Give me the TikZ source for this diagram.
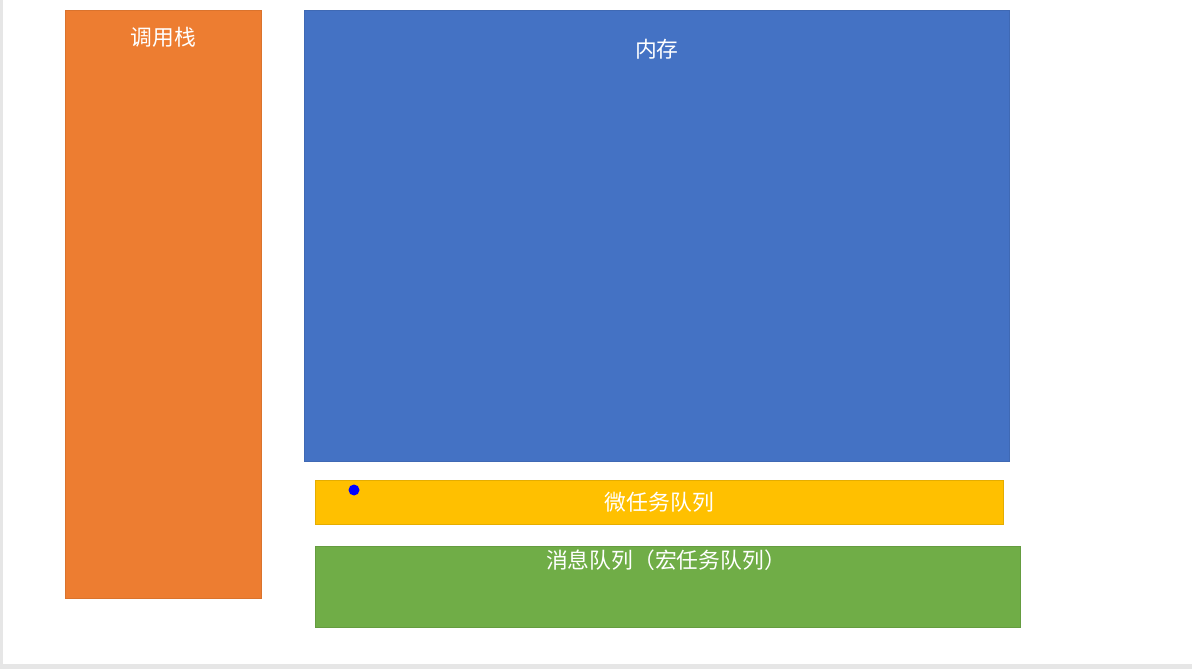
\documentclass[tikz,border=0pt]{standalone}
\usepackage{fontspec}
\newfontfamily\cjk{Noto Sans CJK SC}
\usetikzlibrary{positioning,calc}

\definecolor{stackorange}{HTML}{ED7D31}
\definecolor{heapblue}{HTML}{4472C4}
\definecolor{microyellow}{HTML}{FFC000}
\definecolor{macrogreen}{HTML}{70AD47}
\definecolor{slidegray}{HTML}{E6E6E6}

\begin{document}
\begin{tikzpicture}[x=0.025cm, y=-0.025cm]
  \tikzstyle{area}=[draw, line width=0.5pt, anchor=north west, inner sep=0pt]
  \tikzstyle{lbl}=[text=white, font=\cjk\fontsize{15.5}{18}\selectfont, inner sep=0pt]
  % slide background
  \fill[slidegray] (0,0) rectangle (1192,669);
  \fill[white] (3,0) rectangle (1192,664);
  \useasboundingbox (0,0) rectangle (1192,669);
  % areas
  \node[area, fill=stackorange, draw=stackorange!92!black, minimum width=4.9cm, minimum height=14.7cm] (stack) at (65,10) {};
  \node[area, fill=heapblue, draw=heapblue!92!black, minimum width=17.625cm, minimum height=11.275cm] (heap) at (304,10) {};
  \node[area, fill=microyellow, draw=microyellow!90!black, minimum width=17.2cm, minimum height=1.1cm] (micro) at (315,480) {};
  \node[area, fill=macrogreen, draw=macrogreen!90!black, minimum width=17.625cm, minimum height=2.025cm] (macro) at (315,546) {};
  % labels
  \node[lbl, below=0.675cm of stack.north, anchor=center] (stacklbl) {调用栈};
  \node[lbl, below=0.975cm of heap.north, anchor=center] (heaplbl) {内存};
  \node[lbl] (microlbl) at (micro.center) {微任务队列};
  \node[lbl, anchor=center] (macrolbl) at ($(macro.north)+(-2,14)$) {消息队列（宏任务队列）};
  % pointer dot
  \fill[blue] (354,490) circle (5.5) coordinate (dot);
\end{tikzpicture}
\end{document}
